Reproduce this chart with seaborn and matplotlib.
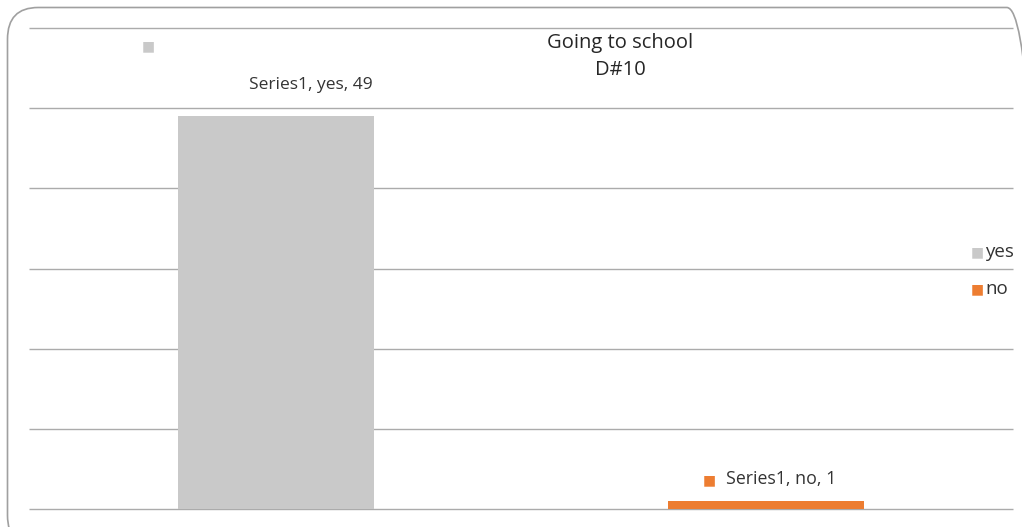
import matplotlib
matplotlib.use("Agg")
import matplotlib.pyplot as plt
import seaborn as sns
import pandas as pd
from matplotlib.patches import FancyBboxPatch

categories = ["yes", "no"]
values = [49, 1]
series_name = "Series1"
colors = ["#C9C9C9", "#ED7D31"]
title_lines = ["Going to school", "D#10"]

sns.set_theme(style="white")
plt.rcParams['font.family'] = ['Open Sans', 'DejaVu Sans']

df = pd.DataFrame({"cat": categories, "val": values})

fig = plt.figure(figsize=(10.22, 5.27), dpi=100)
ax = fig.add_axes([29/1022, 1 - 509/527, (1013-29)/1022, (509-28)/527])

sns.barplot(data=df, x="cat", y="val", hue="cat", palette=colors,
            width=0.4, ax=ax, legend=False, saturation=1,
            edgecolor="none", linewidth=0, zorder=3)

ax.set_ylim(0, 60)
ax.set_xlim(-0.503, 1.504)
ax.hlines(range(0, 61, 10), -0.503, 1.504, colors="#ABABAB", linewidth=1,
          clip_on=False, zorder=1)
for s in ax.spines.values():
    s.set_visible(False)
ax.set_xticks([])
ax.set_yticks([])
ax.set_xlabel("")
ax.set_ylabel("")

# title
fig.text(620/1022, 1 - 43/527, title_lines[0], ha="center", va="center",
         fontsize=14.5, color="#262626")
fig.text(620/1022, 1 - 70/527, title_lines[1], ha="center", va="center",
         fontsize=14.5, color="#262626")

# data labels
ax.annotate(f"{series_name}, {categories[0]}, {values[0]}", xy=(0, values[0]),
            xytext=(35, 31), textcoords="offset pixels", ha="center", va="center",
            fontsize=12.5, color="#333333")
ax.annotate(f"{series_name}, {categories[1]}, {values[1]}", xy=(1, values[1]),
            xytext=(15, 22), textcoords="offset pixels", ha="center", va="center",
            fontsize=12.8, color="#333333")
fig.text(709/1022, 1 - 480/527, "\u25A0", ha="center", va="center",
         fontsize=10, color=colors[1], family="DejaVu Sans")

# stray marker top-left
fig.text(148/1022, 1 - 46/527, "\u25A0", ha="center", va="center",
         fontsize=10, color=colors[0], family="DejaVu Sans")

# legend
for i, (c, lab) in enumerate(zip(colors, categories)):
    y = 1 - (252 + 37 * i) / 527
    fig.text(977/1022, y, "\u25A0", ha="center", va="center", fontsize=10,
             color=c, family="DejaVu Sans")
    fig.text(985/1022, y, lab, ha="left", va="center", fontsize=13.5, color="#333333")

# outer frame
frame = FancyBboxPatch((7.5/1022, -20/527), 1030/1022, (527 - 7.5 + 20)/527,
                       boxstyle="round,pad=0,rounding_size=0.03",
                       transform=fig.transFigure, facecolor="none",
                       edgecolor="#A0A0A0", linewidth=1.2, mutation_aspect=2)
fig.patches.append(frame)

fig.savefig("out.png", dpi=100)
